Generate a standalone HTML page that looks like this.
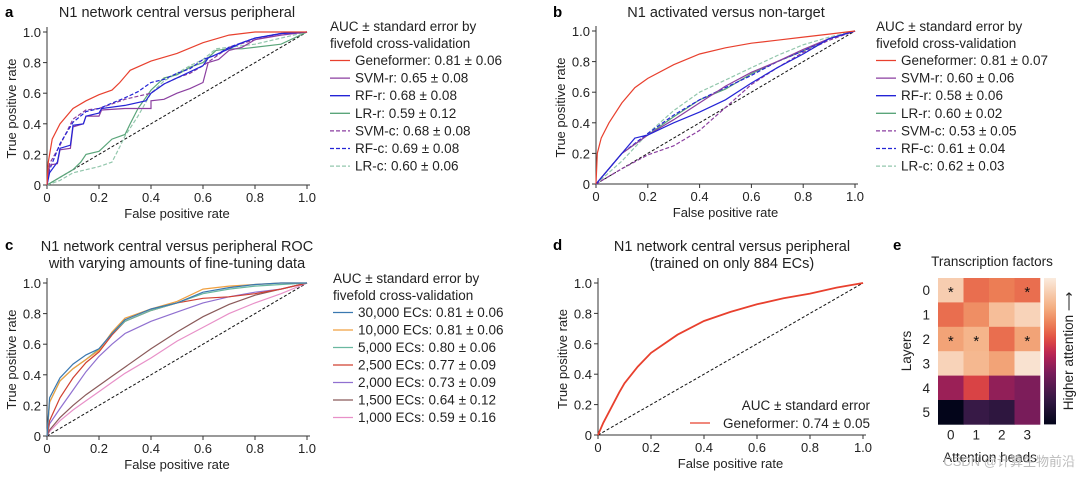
<!DOCTYPE html>
<html><head><meta charset="utf-8"><style>
html,body{margin:0;padding:0;background:#fff}
svg{display:block;font-family:"Liberation Sans",Arial,sans-serif}
</style></head><body>
<svg id="fig" width="1080" height="478" viewBox="0 0 1080 478"></svg>
<script>
// ---- Panel a data ----
const aGeneX=[0,0.005,0.02,0.05,0.1,0.15,0.2,0.25,0.28,0.32,0.4,0.5,0.6,0.7,0.8,1];
const aGeneY=[0,0.15,0.3,0.4,0.5,0.55,0.59,0.62,0.67,0.75,0.81,0.86,0.93,0.98,1,1];
const aSvmrX=[0,0.01,0.04,0.05,0.09,0.1,0.14,0.15,0.2,0.21,0.3,0.4,0.4,0.45,0.5,0.55,0.6,0.62,0.66,0.7,0.75,0.8,0.9,1];
const aSvmrY=[0,0.13,0.14,0.23,0.24,0.38,0.4,0.45,0.45,0.49,0.5,0.5,0.55,0.56,0.6,0.63,0.67,0.8,0.82,0.88,0.9,0.95,0.98,1];
const aRfrX=[0,0.01,0.04,0.05,0.09,0.1,0.14,0.15,0.2,0.21,0.3,0.38,0.4,0.45,0.5,0.55,0.6,0.62,0.66,0.7,0.75,0.8,0.9,1];
const aRfrY=[0,0.08,0.15,0.24,0.26,0.39,0.4,0.45,0.47,0.5,0.52,0.55,0.6,0.66,0.7,0.74,0.78,0.83,0.86,0.89,0.93,0.96,0.99,1];
const aLrrX=[0,0.05,0.1,0.13,0.15,0.2,0.25,0.3,0.32,0.35,0.4,0.45,0.5,0.55,0.6,0.65,0.7,0.75,0.9,1];
const aLrrY=[0,0.05,0.1,0.15,0.2,0.22,0.3,0.33,0.4,0.5,0.62,0.7,0.72,0.77,0.8,0.88,0.89,0.89,0.92,1];
const aSvmcX=[0,0.01,0.05,0.1,0.15,0.2,0.3,0.4,0.45,0.5,0.55,0.6,0.65,0.7,0.8,0.9,1];
const aSvmcY=[0,0.14,0.26,0.43,0.49,0.5,0.56,0.6,0.66,0.7,0.73,0.78,0.84,0.9,0.95,0.99,1];
const aRfcX=[0,0.01,0.05,0.1,0.15,0.2,0.3,0.35,0.4,0.45,0.5,0.55,0.6,0.65,0.7,0.8,0.9,1];
const aRfcY=[0,0.1,0.27,0.41,0.48,0.5,0.57,0.61,0.67,0.69,0.73,0.76,0.82,0.85,0.9,0.96,0.99,1];
const aLrcX=[0,0.05,0.1,0.15,0.2,0.25,0.28,0.3,0.35,0.4,0.45,0.5,0.55,0.6,0.65,0.7,0.8,0.9,1];
const aLrcY=[0,0.03,0.08,0.1,0.12,0.15,0.25,0.32,0.45,0.6,0.68,0.73,0.78,0.82,0.89,0.9,0.92,0.96,1];
// ---- Panel b data ----
const bGeneX=[0,0.005,0.02,0.05,0.1,0.15,0.2,0.3,0.4,0.5,0.6,0.7,0.8,0.9,1];
const bGeneY=[0,0.2,0.3,0.4,0.53,0.63,0.69,0.78,0.85,0.89,0.92,0.94,0.96,0.98,1];
const bSvmrX=[0,0.1,0.2,0.3,0.4,0.5,0.6,0.7,0.8,0.9,1];
const bSvmrY=[0,0.2,0.32,0.42,0.53,0.64,0.73,0.8,0.88,0.95,1];
const bRfrX=[0,0.1,0.15,0.2,0.3,0.4,0.5,0.6,0.7,0.8,0.9,1];
const bRfrY=[0,0.2,0.3,0.32,0.4,0.47,0.55,0.66,0.76,0.85,0.95,1];
const bLrrX=[0,0.1,0.2,0.3,0.4,0.5,0.6,0.7,0.8,0.9,1];
const bLrrY=[0,0.2,0.32,0.44,0.55,0.62,0.72,0.8,0.87,0.95,1];
const bSvmcX=[0,0.1,0.2,0.3,0.4,0.5,0.6,0.7,0.8,0.9,1];
const bSvmcY=[0,0.1,0.19,0.25,0.35,0.5,0.65,0.76,0.86,0.94,1];
const bRfcX=[0,0.1,0.2,0.3,0.4,0.5,0.6,0.7,0.8,0.9,1];
const bRfcY=[0,0.2,0.33,0.45,0.55,0.63,0.71,0.8,0.87,0.95,1];
const bLrcX=[0,0.1,0.2,0.3,0.4,0.5,0.6,0.7,0.8,0.9,1];
const bLrcY=[0,0.15,0.33,0.48,0.6,0.68,0.76,0.84,0.91,0.96,1];
// ---- Panel c data ----
const cX=[0,0.01,0.05,0.1,0.15,0.2,0.25,0.3,0.4,0.5,0.6,0.7,0.8,0.9,1];
const c30k=[0,0.25,0.38,0.47,0.53,0.57,0.67,0.76,0.83,0.87,0.94,0.97,0.99,1,1];
const c10k=[0,0.22,0.36,0.44,0.5,0.56,0.68,0.77,0.83,0.88,0.96,0.98,0.99,1,1];
const c5k=[0,0.22,0.36,0.44,0.5,0.57,0.67,0.75,0.82,0.87,0.93,0.96,0.98,0.99,1];
const c2500=[0,0.1,0.25,0.38,0.48,0.55,0.66,0.75,0.82,0.87,0.9,0.91,0.93,0.96,1];
const c2000=[0,0.08,0.18,0.3,0.42,0.52,0.6,0.67,0.75,0.81,0.87,0.91,0.94,0.96,1];
const c1500=[0,0.04,0.12,0.2,0.27,0.33,0.39,0.45,0.57,0.68,0.78,0.86,0.92,0.96,1];
const c1000=[0,0.03,0.1,0.17,0.23,0.29,0.35,0.41,0.51,0.62,0.71,0.8,0.87,0.93,1];
// ---- Panel d data ----
const dX=[0,0.02,0.05,0.08,0.1,0.15,0.2,0.3,0.4,0.5,0.6,0.7,0.8,0.9,1];
const dY=[0,0.08,0.18,0.28,0.34,0.45,0.54,0.66,0.75,0.81,0.86,0.9,0.93,0.97,1];
// ---- Panel e data ----
const eHeads=["0","1","2","3"];
const eLayers=["0","1","2","3","4","5"];
const eVals=[[0.9,0.65,0.68,0.65],[0.65,0.72,0.85,0.92],[0.77,0.82,0.65,0.77],[0.92,0.83,0.77,0.97],[0.42,0.56,0.4,0.36],[0.0,0.18,0.15,0.35]];
const eStars=[[1,0,0,1],[0,0,0,0],[1,1,0,1],[0,0,0,0],[0,0,0,0],[0,0,0,0]];
const ticks=[0,0.2,0.4,0.6,0.8,1.0];
const tickLbl=["0","0.2","0.4","0.6","0.8","1.0"];

const NS="http://www.w3.org/2000/svg";
const svg=document.getElementById('fig');
function mk(tag,attrs,parent){const e=document.createElementNS(NS,tag);for(const k in attrs)e.setAttribute(k,attrs[k]);(parent||svg).appendChild(e);return e;}
function txt(s,x,y,size,anchor,parent,extra){const t=mk('text',Object.assign({x:x,y:y,'font-size':size,'text-anchor':anchor||'start',fill:'#222'},extra||{}),parent);t.textContent=s;return t;}

function axes(id,x0,x1,y0,y1){
  const g=mk('g',{});
  
  
  const sx=v=>x0+(x1-x0)*v, sy=v=>y0-(y0-y1)*v;
  mk('line',{x1:x0,y1:y0,x2:x1+3,y2:y0,stroke:'#333','stroke-width':1},g);
  mk('line',{x1:x0,y1:y0,x2:x0,y2:y1-5,stroke:'#333','stroke-width':1},g);
  ticks.forEach((t,i)=>{
    mk('line',{x1:sx(t),y1:y0,x2:sx(t),y2:y0+4,stroke:'#333'},g);
    mk('line',{x1:x0-4,y1:sy(t),x2:x0,y2:sy(t),stroke:'#333'},g);
    txt(tickLbl[i],sx(t),y0+17,13,'middle',g);
    txt(tickLbl[i],x0-6,sy(t)+5,13,'end',g);
  });
  mk('line',{x1:sx(0),y1:sy(0),x2:sx(1),y2:sy(1),stroke:'#111','stroke-width':1,'stroke-dasharray':'3,2'},g);
  txt('False positive rate',(x0+x1)/2,y0+33,13,'middle',g);
  txt('True positive rate',0,0,13,'middle',g,{transform:`translate(${x0-31},${(y0+y1)/2}) rotate(-90)`});
  return {sx,sy,g};
}
function curve(ax,xs,ys,color,dash,name,w){
  const d=xs.map((x,i)=>(i?'L':'M')+ax.sx(x).toFixed(1)+','+ax.sy(ys[i]).toFixed(1)).join('');
  const p=mk('path',{d:d,fill:'none',stroke:color,'stroke-width':w||1.2,'stroke-dasharray':dash||'none'});
  
  
}
function legend(x,y,title,items,step){
  const g=mk('g',{});
  
  
  title.forEach((t,i)=>txt(t,x,y+i*17,13.5,'start',g));
  items.forEach((it,i)=>{
    const yy=y+title.length*17+i*step;
    mk('line',{x1:x,y1:yy-4.5,x2:x+20,y2:yy-4.5,stroke:it[1],'stroke-width':1.3,'stroke-dasharray':it[2]||'none'},g);
    txt(it[0],x+25,yy,13.5,'start',g);
  });
}
const C={gene:'#e8402e',svm:'#8b3fa0',rf:'#2424d6',lr:'#5aa57a',lrc:'#93c7ad'};
[['a',5,17],['b',553,17],['c',5,250],['d',553,250],['e',893,250]].forEach(p=>{const t=txt(p[0],p[1],p[2],15,'start',null,{'font-weight':'bold',fill:'#000'});});
txt('N1 network central versus peripheral',177,17,14.5,'middle');
txt('N1 activated versus non-target',726,17,14.5,'middle');
txt('N1 network central versus peripheral ROC',177,251,14.5,'middle');
txt('with varying amounts of fine-tuning data',177,268,14.5,'middle');
txt('N1 network central versus peripheral',732,251,14.5,'middle');
txt('(trained on only 884 ECs)',732,268,14.5,'middle');

const A=axes('panel-a',47,307,185,32);
curve(A,aLrcX,aLrcY,C.lrc,'4,2','lr-c-curve');
curve(A,aLrrX,aLrrY,C.lr,null,'lr-r-curve');
curve(A,aSvmcX,aSvmcY,C.svm,'4,2','svm-c-curve');
curve(A,aRfcX,aRfcY,C.rf,'4,2','rf-c-curve');
curve(A,aSvmrX,aSvmrY,C.svm,null,'svm-r-curve');
curve(A,aRfrX,aRfrY,C.rf,null,'rf-r-curve');
curve(A,aGeneX,aGeneY,C.gene,null,'geneformer-curve');
legend(330,31,['AUC ± standard error by','fivefold cross-validation'],[['Geneformer: 0.81 ± 0.06',C.gene],['SVM-r: 0.65 ± 0.08',C.svm],['RF-r: 0.68 ± 0.08',C.rf],['LR-r: 0.59 ± 0.12',C.lr],['SVM-c: 0.68 ± 0.08',C.svm,'4,2'],['RF-c: 0.69 ± 0.08',C.rf,'4,2'],['LR-c: 0.60 ± 0.06',C.lrc,'4,2']],17.6);

const B=axes('panel-b',596,855,184,31);
curve(B,bLrcX,bLrcY,C.lrc,'4,2','lr-c-curve');
curve(B,bLrrX,bLrrY,C.lr,null,'lr-r-curve');
curve(B,bSvmcX,bSvmcY,C.svm,'4,2','svm-c-curve');
curve(B,bRfcX,bRfcY,C.rf,'4,2','rf-c-curve');
curve(B,bSvmrX,bSvmrY,C.svm,null,'svm-r-curve');
curve(B,bRfrX,bRfrY,C.rf,null,'rf-r-curve');
curve(B,bGeneX,bGeneY,C.gene,null,'geneformer-curve');
legend(876,31,['AUC ± standard error by','fivefold cross-validation'],[['Geneformer: 0.81 ± 0.07',C.gene],['SVM-r: 0.60 ± 0.06',C.svm],['RF-r: 0.58 ± 0.06',C.rf],['LR-r: 0.60 ± 0.02',C.lr],['SVM-c: 0.53 ± 0.05',C.svm,'4,2'],['RF-c: 0.61 ± 0.04',C.rf,'4,2'],['LR-c: 0.62 ± 0.03',C.lrc,'4,2']],17.6);

const Cx=axes('panel-c',47,307,436,283);
const cCol=['#3a78b0','#f0a040','#6ab8a0','#d04030','#9070d0','#8a5a5a','#e890c8'];
const cSeries=[c1000,c1500,c2000,c2500,c5k,c10k,c30k];
const cNames=['1000','1500','2000','2500','5000','10000','30000'];
cSeries.forEach((s,i)=>curve(Cx,cX,s,cCol[6-i],null,'curve-'+cNames[i]+'-ecs'));
legend(333,283,['AUC ± standard error by','fivefold cross-validation'],[['30,000 ECs: 0.81 ± 0.06',cCol[0]],['10,000 ECs: 0.81 ± 0.06',cCol[1]],['5,000 ECs: 0.80 ± 0.06',cCol[2]],['2,500 ECs: 0.77 ± 0.09',cCol[3]],['2,000 ECs: 0.73 ± 0.09',cCol[4]],['1,500 ECs: 0.64 ± 0.12',cCol[5]],['1,000 ECs: 0.59 ± 0.16',cCol[6]]],17.5);

const D=axes('panel-d',598,863,435,283);
curve(D,dX,dY,C.gene,null,'geneformer-curve',1.8);
txt('AUC ± standard error',870,410,13.5,'end');
mk('line',{x1:690,y1:423,x2:710,y2:423,stroke:C.gene,'stroke-width':1.3});
txt('Geneformer: 0.74 ± 0.05',870,428,13.5,'end');

const stops=[[0,[3,5,26]],[0.18,[55,25,70]],[0.35,[120,28,90]],[0.48,[185,35,85]],[0.58,[225,75,65]],[0.68,[236,125,85]],[0.8,[244,175,130]],[1,[250,235,222]]];
function cmap(v){for(let i=1;i<stops.length;i++){if(v<=stops[i][0]){const a=stops[i-1],b=stops[i],t=(v-a[0])/(b[0]-a[0]);return 'rgb('+a[1].map((c,k)=>Math.round(c+(b[1][k]-c)*t)).join(',')+')';}}return 'rgb(250,235,222)';}
const hx0=938,hy0=278,cw=25.5,ch=24.4;
txt('Transcription factors',992,266,13.5,'middle');
eVals.forEach((row,r)=>row.forEach((v,c)=>{
  const rc=mk('rect',{x:hx0+c*cw,y:hy0+r*ch,width:cw+0.3,height:ch+0.3,fill:cmap(v)});
  
  
  if(eStars[r][c])txt('*',hx0+c*cw+cw/2,hy0+r*ch+ch/2+7,15,'middle',null,{fill:'#111'});
}));
eLayers.forEach((l,r)=>txt(l,930,hy0+r*ch+ch/2+5,13.5,'end'));
eHeads.forEach((h,c)=>txt(h,hx0+c*cw+cw/2,hy0+6*ch+15,13.5,'middle'));
txt('Layers',0,0,13.5,'middle',null,{transform:'translate(911,351) rotate(-90)'});
txt('Attention heads',990,462,13.5,'middle');
const defs=mk('defs',{});
const lg=mk('linearGradient',{id:'cb',x1:0,y1:1,x2:0,y2:0},defs);
for(let i=0;i<=20;i++)mk('stop',{offset:i/20,'stop-color':cmap(i/20)},lg);
const cb=mk('rect',{x:1044,y:hy0,width:12,height:6*ch,fill:'url(#cb)'});


txt('Higher attention ⟶',0,0,13.5,'middle',null,{transform:'translate(1073,351) rotate(-90)'});
txt('CSDN @计算生物前沿',1075,466,13,'end',null,{fill:'#bbb','font-family':'"Liberation Sans","Noto Sans CJK SC",sans-serif'});
</script>
</body></html>
